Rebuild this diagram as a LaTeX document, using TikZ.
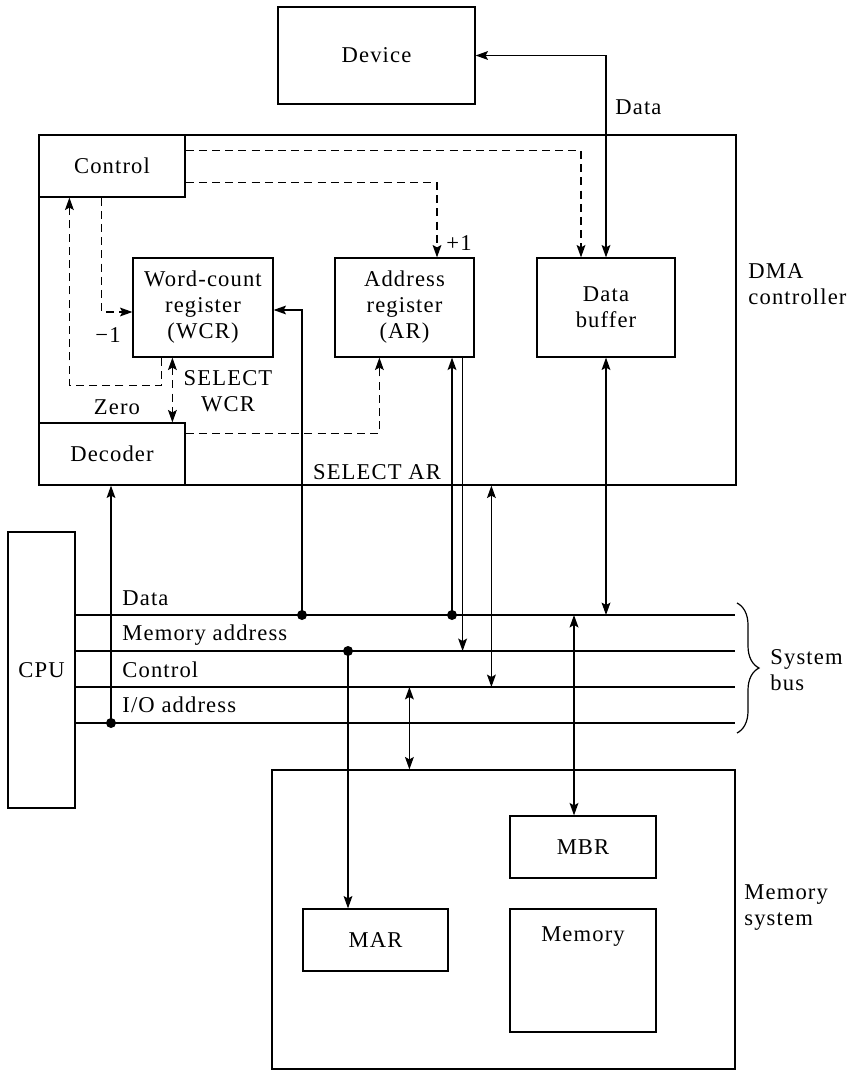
\documentclass[tikz,border=0pt]{standalone}
\usepackage{fontspec}
\setmainfont{Liberation Serif}[LetterSpace=5]
\usetikzlibrary{arrows.meta,calc,decorations.pathreplacing}
\newcommand\dfont{\fontsize{11.3}{13}\selectfont}
\begin{document}
\begin{tikzpicture}[x=0.5pt,y=-0.5pt,
 box/.style={draw,line width=0.6pt,inner sep=0pt,align=center,font=\dfont},
 lab/.style={inner sep=0pt,font=\dfont,align=left},
 wire/.style={line width=0.6pt},
 thickwire/.style={line width=0.85pt},
 ctl/.style={line width=0.6pt,dash pattern=on 4pt off 2.6pt},
 jdot/.style={circle,fill,inner sep=0pt,minimum size=5pt},
 >={Stealth[length=6.2pt,width=4.4pt,inset=1.2pt]}]
\useasboundingbox (0,0) rectangle (852,1079);
% boxes
\node[box,minimum width=98.5pt,minimum height=48.5pt] (dev) at (376.5,55.5) {Device};
\node[box,minimum width=348.5pt,minimum height=175pt] (dma) at (387.5,310) {};
\node[box,minimum width=73pt,minimum height=31pt] (ctrl) at (112,166) {Control};
\node[box,minimum width=70pt,minimum height=49.5pt] (wcr) at (203,307.5) {Word-count\\register\\(WCR)};
\node[box,minimum width=69.5pt,minimum height=49.5pt] (ar) at (404.5,307.5) {Address\\register\\(AR)};
\node[box,minimum width=69pt,minimum height=49.5pt] (db) at (606,307.5) {Data\\buffer};
\node[box,minimum width=73pt,minimum height=31pt] (dec) at (112,454) {Decoder};
\node[box,minimum width=33.5pt,minimum height=138pt] (cpu) at (41.5,670) {CPU};
\node[box,minimum width=231.5pt,minimum height=149.5pt] (msys) at (503.5,919.5) {};
\node[box,minimum width=73pt,minimum height=31pt] (mbr) at (583,847) {MBR};
\node[box,minimum width=72.5pt,minimum height=31pt] (mar) at (375.5,940) {MAR};
\node[box,minimum width=73pt,minimum height=61.5pt] (mem) at (583,970.5) {};
\node[lab] (memlbl) at (583,937) {Memory};
% outside labels
\node[lab,anchor=west] (dmalbl) at (748,284) {DMA\\controller};
\node[lab,anchor=west] (msyslbl) at (744,908) {Memory\\system};
\node[lab,anchor=west] (sbus) at (770,670) {System\\bus};
% device data path
\draw[wire,<->] (db.north) |- (dev.east);
\node[lab,anchor=west] (dlab) at (615,107) {Data};
% control signals (dashed)
\draw[ctl,->] ($(ctrl.north east)+(0,16)$) -| ($(db.north)+(-25,0)$);
\draw[ctl,->] ($(ctrl.south east)+(0,-15)$) -| ($(ar.north)+(32.5,0)$);
\node[lab] (p1) at (459,243) {+1};
\draw[ctl,->] ($(ctrl.south west)+(63,0)$) |- ($(wcr.west)+(0,4.5)$);
\node[lab] (m1) at (108,335) {−1};
\draw[ctl,->] ($(wcr.south west)+(29,0)$) -- ++(0,28) -| ($(ctrl.south west)+(31,0)$);
\node[lab] (zero) at (117,407) {Zero};
\coordinate (sw) at ($(wcr.south west)+(40,0)$);
\draw[ctl,<->] (sw) -- (sw |- dec.north);
\node[lab,align=center] (selw) at (228,391) {SELECT\\WCR};
\draw[ctl,->] ($(dec.north east)+(0,11)$) -| ($(ar.south west)+(45,0)$);
\node[lab] (sela) at (377,472) {SELECT AR};
% system bus
\coordinate (bD) at (735,615);
\coordinate (bM) at (735,651);
\coordinate (bC) at (735,687);
\coordinate (bI) at (735,723);
\draw[thickwire] (cpu.east |- bD) -- (bD);
\draw[wire] (cpu.east |- bM) -- (bM);
\draw[wire] (cpu.east |- bC) -- (bC);
\draw[wire] (cpu.east |- bI) -- (bI);
\node[lab,anchor=west] (lD) at (122,598) {Data};
\node[lab,anchor=west] (lM) at (122,635) {Memory address};
\node[lab,anchor=west] (lC) at (122,670) {Control};
\node[lab,anchor=west] (lI) at (122,705) {I/O address};
\draw[wire,decorate,decoration={brace,amplitude=11pt}] (737,603) -- (737,733);
% taps
\node[jdot] (tW) at (302,615) {};
\node[jdot] (tA) at (452,615) {};
\node[jdot] (tM) at (348,651) {};
\node[jdot] (tI) at (111,723) {};
\draw[wire,->] (tW.center) |- ($(wcr.east)+(0,2.5)$);
\draw[thickwire,->] (tA.center) -- (tA |- ar.south);
\coordinate (arout) at ($(ar.south east)+(-12,0)$);
\draw[wire,->] (arout) -- (arout |- bM);
\coordinate (dmac) at ($(dma.south west)+(453,0)$);
\draw[wire,<->] (dmac) -- (dmac |- bC);
\draw[wire,<->] (db.south) -- (db.south |- bD);
\coordinate (mbrin) at ($(mbr.north)+(-9,0)$);
\draw[thickwire,<->] (mbrin |- bD) -- (mbrin);
\coordinate (msin) at ($(msys.north west)+(138,0)$);
\draw[wire,<->] (msin |- bC) -- (msin);
\draw[wire,->] (tM.center) -- (tM |- mar.north);
\draw[wire,->] (tI.center) -- (tI |- dec.south);
\end{tikzpicture}
\end{document}
